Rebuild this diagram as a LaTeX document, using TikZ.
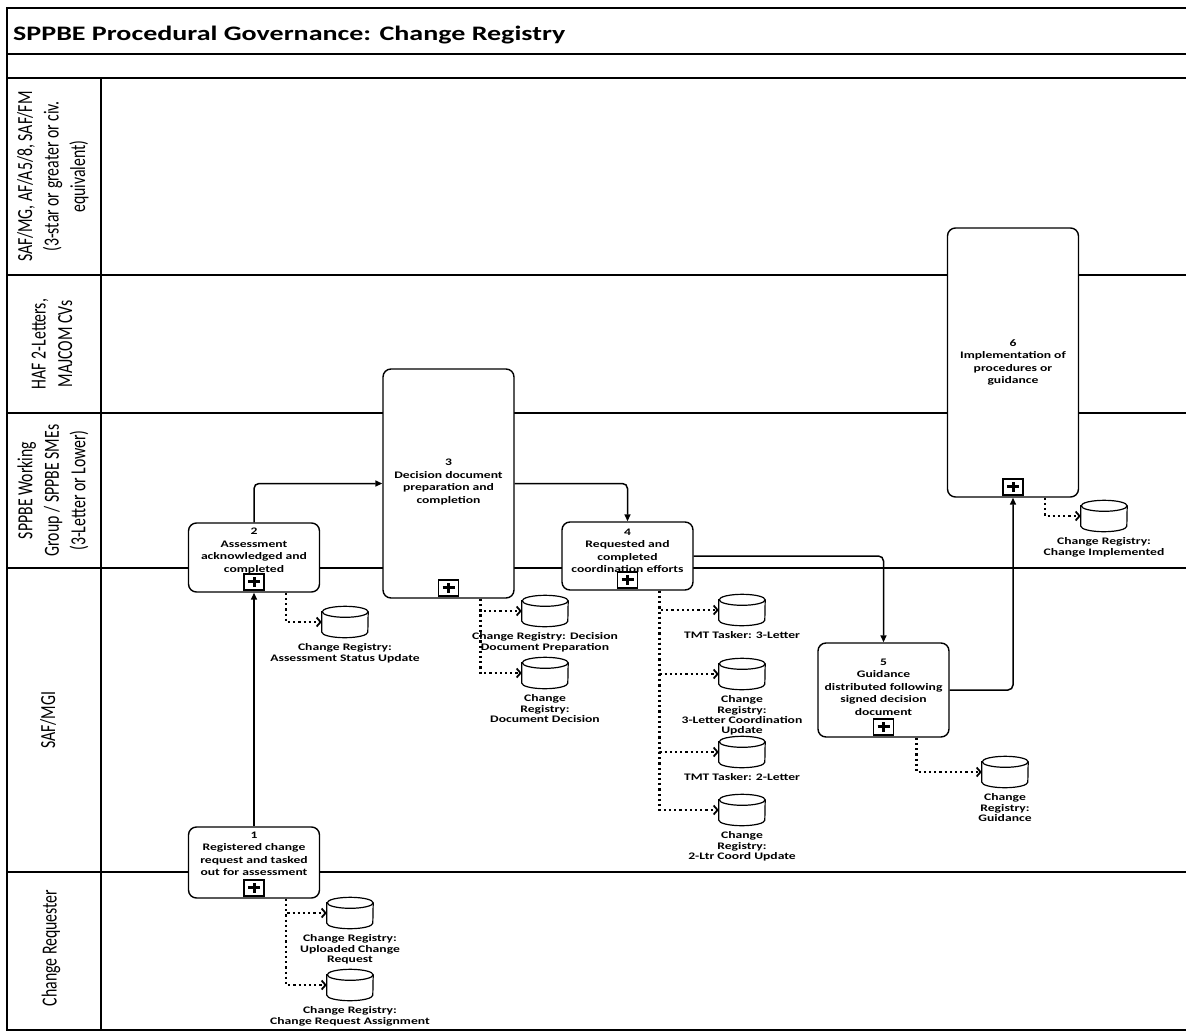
\documentclass[tikz,border=0pt]{standalone}
\usepackage{fontspec}
\setmainfont{Carlito}[FakeStretch=1.36]
\newfontfamily\lanefont{Carlito}[FakeStretch=0.735]
\usetikzlibrary{arrows.meta}

% data store drawn as a cylinder over the named (invisible) node
\newcommand\cylstore[1]{%
  \filldraw[storeline, fill=white] ([yshift=-5.5bp]#1.north west) -- ([yshift=5.5bp]#1.south west)
    arc[start angle=180, end angle=360, x radius=23bp, y radius=5.5bp]
    -- ([yshift=-5.5bp]#1.north east)
    arc[start angle=0, end angle=180, x radius=23bp, y radius=5.5bp] -- cycle;
  \draw[storeline] ([yshift=-5.5bp]#1.north east)
    arc[start angle=0, end angle=-180, x radius=23bp, y radius=5.5bp];
}

\begin{document}
\begin{tikzpicture}[x=1bp, y=-1bp,
  frameline/.style={line width=2bp, black, line cap=rect},
  task/.style={draw, line width=1.4bp, rounded corners=8bp, fill=white,
    minimum width=131bp, inner sep=0},
  tasktext/.style={font=\bfseries\fontsize{10bp}{12.5bp}\selectfont, align=center, inner sep=0},
  marker/.style={draw, line width=1.8bp, fill=white, minimum width=20bp, minimum height=16bp,
    inner sep=0, path picture={
      \draw[line width=3bp] ([xshift=-6bp]path picture bounding box.center) -- ([xshift=6bp]path picture bounding box.center);
      \draw[line width=3bp] ([yshift=-5bp]path picture bounding box.center) -- ([yshift=5bp]path picture bounding box.center);
    }},
  store/.style={minimum width=46bp, minimum height=31bp, inner sep=0},
  storeline/.style={line width=1.2bp, black},
  storetext/.style={font=\bfseries\fontsize{10bp}{10.3bp}\selectfont, align=center, inner sep=0, anchor=north},
  lanelabel/.style={rotate=90, font=\lanefont\fontsize{21.5bp}{26.5bp}\selectfont, align=center, inner sep=0},
  flow/.style={line width=1.5bp, rounded corners=5bp, -{Triangle[length=7bp, width=6bp]}},
  assoc/.style={line width=2.6bp, dash pattern=on 2.2bp off 3bp,
    -{Straight Barb[length=4bp, width=9bp, line width=1.8bp]}}
]
\useasboundingbox (0,0) rectangle (1186,1034);

% pool frame, title band and swimlanes
\draw[frameline] (1186,8) -- (7,8) -- (7,1030) -- (1186,1030);
\foreach \yy in {54,78,275,413,568,872} \draw[frameline] (7,\yy) -- (1186,\yy);
\draw[frameline] (101,78) -- (101,1030);

\node[anchor=base west, inner sep=0, font=\bfseries\fontsize{20.6bp}{24bp}\selectfont] (title) at (13,40)
  {SPPBE Procedural Governance: Change Registry};

\node[lanelabel] (l1) at (53,176.5) {SAF/MG, AF/A5/8, SAF/FM\\(3-star or greater or civ.\\equivalent)};
\node[lanelabel] (l2) at (52,344) {HAF 2-Letters,\\MAJCOM CVs};
\node[lanelabel] (l3) at (53,490.5) {SPPBE Working\\Group / SPPBE SMEs\\(3-Letter or Lower)};
\node[lanelabel] (l4) at (48,720) {SAF/MGI};
\node[lanelabel] (l5) at (51,948) {Change Requester};

% sub-process tasks
\node[task, minimum height=71bp]  (t1) at (254,862.5) {};
\node[task, minimum height=69bp]  (t2) at (254,557.5) {};
\node[task, minimum height=229bp] (t3) at (448.5,483.5) {};
\node[task, minimum height=68bp]  (t4) at (627.5,556) {};
\node[task, minimum height=94bp]  (t5) at (883.5,690) {};
\node[task, minimum height=269bp] (t6) at (1013,362.5) {};

\node[tasktext] (t1x) at ([yshift=8.5bp]t1.center) {1\\Registered change\\request and tasked\\out for assessment};
\node[tasktext] (t2x) at ([yshift=6.5bp]t2.center) {2\\Assessment\\acknowledged and\\completed};
\node[tasktext] (t3x) at ([yshift=1.5bp]t3.center) {3\\Decision document\\preparation and\\completion};
\node[tasktext] (t4x) at ([yshift=5bp]t4.center) {4\\Requested and\\completed\\coordination efforts};
\node[tasktext] (t5x) at ([yshift=3bp]t5.center) {5\\Guidance\\distributed following\\signed decision\\document};
\node[tasktext] (t6x) at (t6.center) {6\\Implementation of\\procedures or\\guidance};

\foreach \t in {t1,t2,t3,t4,t5,t6}
  \node[marker] (\t m) at ([yshift=11bp]\t.south) {};

% sequence flows
\draw[flow] (t1.north) -- (t2.south);
\draw[flow] (t2.north) |- (t3.west);
\draw[flow] (t3.east) -| (t4.north);
\draw[flow] (t4.east) -| (t5.north);
\draw[flow] (t5.east) -| (t6.south);

% data stores
\node[store] (s1a) at (350,913) {};
\node[store] (s1b) at (350,985) {};
\node[store] (s2)  at (345,622) {};
\node[store] (s3a) at (545,611) {};
\node[store] (s3b) at (545,673) {};
\node[store] (s4a) at (742,610) {};
\node[store] (s4b) at (742,674) {};
\node[store] (s4c) at (742,752) {};
\node[store] (s4d) at (742,810) {};
\node[store] (s5)  at (1005,772) {};
\node[store] (s6)  at (1104,516) {};
\foreach \s in {s1a,s1b,s2,s3a,s3b,s4a,s4b,s4c,s4d,s5,s6} \cylstore{\s};

\node[storetext] (s1al) at ([yshift=-6bp]s1a.south) {Change Registry:\\Uploaded Change\\Request};
\node[storetext] (s1bl) at ([yshift=-6bp]s1b.south) {Change Registry:\\Change Request Assignment};
\node[storetext] (s2l)  at ([yshift=-6bp]s2.south)  {Change Registry:\\Assessment Status Update};
\node[storetext] (s3al) at ([yshift=-6bp]s3a.south) {Change Registry: Decision\\Document Preparation};
\node[storetext] (s3bl) at ([yshift=-6bp]s3b.south) {Change\\Registry:\\Document Decision};
\node[storetext] (s4al) at ([yshift=-6bp]s4a.south) {TMT Tasker: 3-Letter};
\node[storetext] (s4bl) at ([yshift=-6bp]s4b.south) {Change\\Registry:\\3-Letter Coordination\\Update};
\node[storetext] (s4cl) at ([yshift=-6bp]s4c.south) {TMT Tasker: 2-Letter};
\node[storetext] (s4dl) at ([yshift=-6bp]s4d.south) {Change\\Registry:\\2-Ltr Coord Update};
\node[storetext] (s5l)  at ([yshift=-6bp]s5.south)  {Change\\Registry:\\Guidance};
\node[storetext] (s6l)  at ([yshift=-6bp]s6.south)  {Change Registry:\\Change Implemented};

% data associations
\draw[assoc] ([xshift=32bp]t1.south) |- (s1a.west);
\draw[assoc] ([xshift=32bp]t1.south) |- (s1b.west);
\draw[assoc] ([xshift=32bp]t2.south) |- (s2.west);
\draw[assoc] ([xshift=32bp]t3.south) |- (s3a.west);
\draw[assoc] ([xshift=32bp]t3.south) |- (s3b.west);
\draw[assoc] ([xshift=32bp]t4.south) |- (s4a.west);
\draw[assoc] ([xshift=32bp]t4.south) |- (s4b.west);
\draw[assoc] ([xshift=32bp]t4.south) |- (s4c.west);
\draw[assoc] ([xshift=32bp]t4.south) |- (s4d.west);
\draw[assoc] ([xshift=33bp]t5.south) |- (s5.west);
\draw[assoc] ([xshift=32bp]t6.south) |- (s6.west);
\end{tikzpicture}
\end{document}
